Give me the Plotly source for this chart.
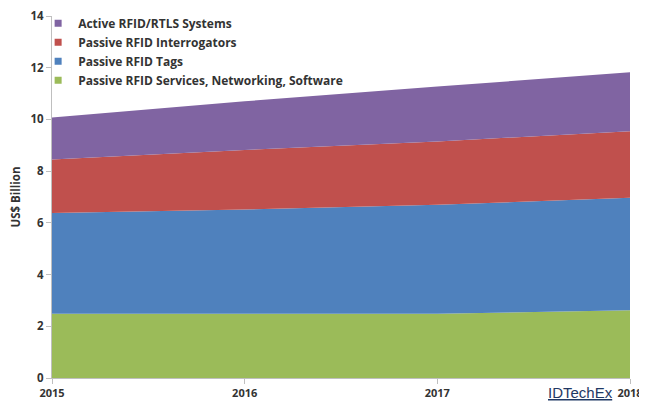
import plotly.graph_objects as go

years = [2015, 2016, 2017, 2018]
services = [2.48, 2.48, 2.48, 2.62]
tags = [3.90, 4.04, 4.22, 4.35]
interrogators = [2.07, 2.30, 2.45, 2.57]
active = [1.62, 1.88, 2.12, 2.28]
y_ticks = [0, 2, 4, 6, 8, 10, 12, 14]

series = [
    ("Passive RFID Services, Networking, Software", services, "#9BBB59"),
    ("Passive RFID Tags", tags, "#4F81BD"),
    ("Passive RFID Interrogators", interrogators, "#C0504D"),
    ("Active RFID/RTLS Systems", active, "#8064A2"),
]

fig = go.Figure()
for name, vals, col in series:
    fig.add_trace(go.Scatter(
        x=years, y=vals, name=name, mode="lines",
        stackgroup="one", line=dict(width=0, color=col),
        fillcolor=col, showlegend=False,
    ))
# legend entries with square markers
for name, vals, col in series:
    fig.add_trace(go.Scatter(
        x=[None], y=[None], name=name, mode="markers",
        marker=dict(symbol="square", size=7, color=col),
        showlegend=True,
    ))

font_fam = "Open Sans, Lato, sans-serif"
txt_col = "#333333"
# page body has an 8px margin, so the figure is sized to fit the window exactly
fig.update_layout(
    width=639, height=399,
    margin=dict(l=44, r=17, t=8, b=29, autoexpand=False),
    paper_bgcolor="white", plot_bgcolor="white",
    showlegend=True,
    legend=dict(
        x=-0.024, y=1.02, xanchor="left", yanchor="top",
        traceorder="reversed",
        font=dict(family=font_fam, size=12, color=txt_col, weight="bold"),
        tracegroupgap=0, itemwidth=30,
        bgcolor="rgba(0,0,0,0)",
    ),
    xaxis=dict(
        range=[2015, 2018], tickvals=years, ticktext=[str(y) for y in years],
        showgrid=False, zeroline=False, automargin=False,
        ticklabeloverflow="allow",
        showline=True, linecolor="#BFBFBF", linewidth=1,
        ticks="outside", ticklen=5, tickcolor="#BFBFBF",
        tickfont=dict(family=font_fam, size=11, color=txt_col, weight="bold"),
    ),
    yaxis=dict(
        range=[0, 14], tickvals=y_ticks,
        showgrid=False, zeroline=False, automargin=False,
        ticklabeloverflow="allow",
        showline=True, linecolor="#BFBFBF", linewidth=1,
        ticks="outside", ticklen=5, tickcolor="#BFBFBF",
        tickfont=dict(family=font_fam, size=11.5, color=txt_col, weight="bold"),
        title=dict(text="US$ Billion", standoff=10,
                   font=dict(family=font_fam, size=11.5, color=txt_col, weight="bold")),
    ),
)

fig.add_annotation(
    xref="paper", yref="paper", x=0.974, y=-0.01, xanchor="right", yanchor="top",
    text="<u>IDTechEx</u>", showarrow=False,
    font=dict(family="Liberation Sans, Arial, sans-serif", size=15, color="#1F3864"),
)

fig.write_html("out.html")
